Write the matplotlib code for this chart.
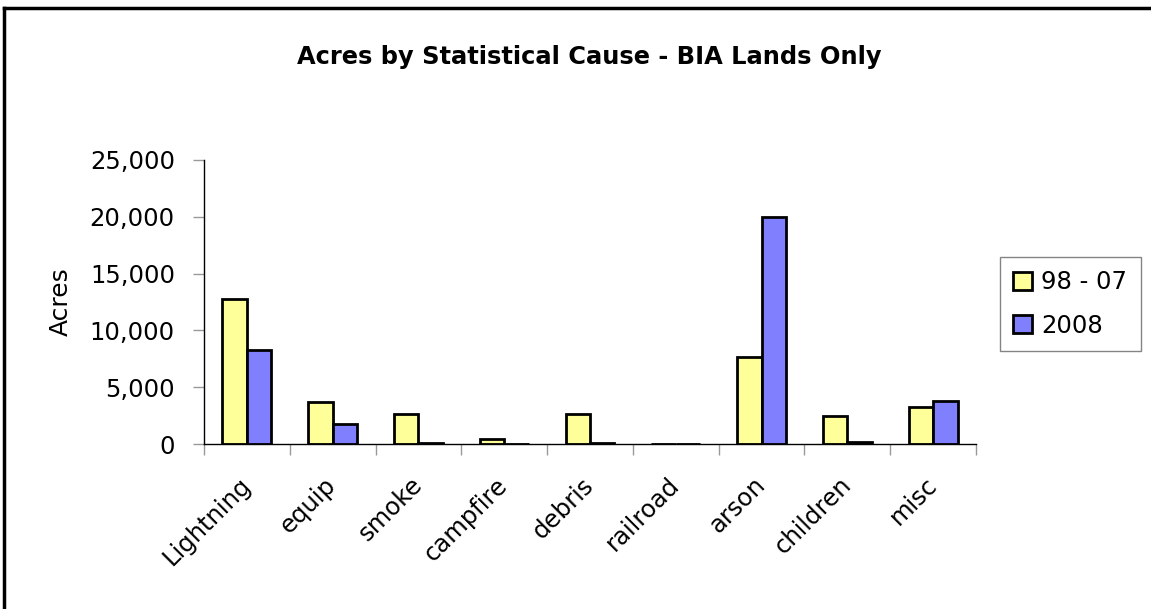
import matplotlib
matplotlib.use("Agg")
import matplotlib.pyplot as plt
import numpy as np
from matplotlib.lines import Line2D
from matplotlib.ticker import FuncFormatter, MultipleLocator

causes = ["Lightning", "equip", "smoke", "campfire", "debris",
          "railroad", "arson", "children", "misc"]
acres_98_07 = [12800, 3700, 2650, 400, 2650, 40, 7650, 2500, 3300]
acres_2008 = [8250, 1800, 50, 30, 100, 30, 20000, 180, 3800]
series_labels = ["98 - 07", "2008"]

W, H = 1151, 609
fig = plt.figure(figsize=(W / 100, H / 100), dpi=100)
ax = fig.add_axes([204 / W, 1 - 444 / H, (976 - 204) / W, (444 - 160) / H])

x = np.arange(len(causes))
bw = 0.285
ax.bar(x - bw / 2, acres_98_07, bw, color="#FFFF99", edgecolor="black",
       linewidth=2, label=series_labels[0])
ax.bar(x + bw / 2, acres_2008, bw, color="#8080FF", edgecolor="black",
       linewidth=2, label=series_labels[1])

ax.set_xlim(-0.5, len(causes) - 0.5)
ax.set_ylim(0, 25000)
ax.yaxis.set_major_locator(MultipleLocator(5000))
ax.yaxis.set_major_formatter(FuncFormatter(lambda v, p: f"{int(v):,}"))
ax.tick_params(axis="y", labelsize=17.5, length=8, width=1, color="#999999", pad=13)

# category labels at centres, tick marks at the boundaries
ax.set_xticks(x)
ax.set_xticklabels(causes, rotation=45, ha="right", va="center",
                   rotation_mode="anchor", fontsize=17.5)
ax.tick_params(axis="x", which="major", length=0, pad=27)
ax.set_xticks(np.arange(len(causes) + 1) - 0.5, minor=True)
ax.tick_params(axis="x", which="minor", length=8, width=1, color="#999999")

for s in ["top", "right"]:
    ax.spines[s].set_visible(False)
ax.spines["left"].set_linewidth(1)
ax.spines["bottom"].set_linewidth(1)

ax.set_ylabel("Acres", fontsize=18, labelpad=12)

fig.text(589 / W, 1 - 57 / H, "Acres by Statistical Cause - BIA Lands Only",
         ha="center", va="center", fontsize=17.4, fontweight="bold")

leg = fig.legend(loc="upper left", bbox_to_anchor=(1000 / W, 1 - 257 / H),
                 fontsize=17.5, frameon=True, fancybox=False, edgecolor="#666666",
                 handlelength=0.75, handleheight=0.75, handletextpad=0.4,
                 labelspacing=0.8, borderpad=0.55, borderaxespad=0)
leg.get_frame().set_linewidth(1)

# outer frame of the chart area: only the top and left edges are visible
fig.lines.append(Line2D([4 / W, 1.0], [1 - 8 / H, 1 - 8 / H],
                        transform=fig.transFigure, color="black", linewidth=2.5))
fig.lines.append(Line2D([4 / W, 4 / W], [0.0, 1 - 8 / H],
                        transform=fig.transFigure, color="black", linewidth=2.5))

fig.savefig("out.png", dpi=100)
